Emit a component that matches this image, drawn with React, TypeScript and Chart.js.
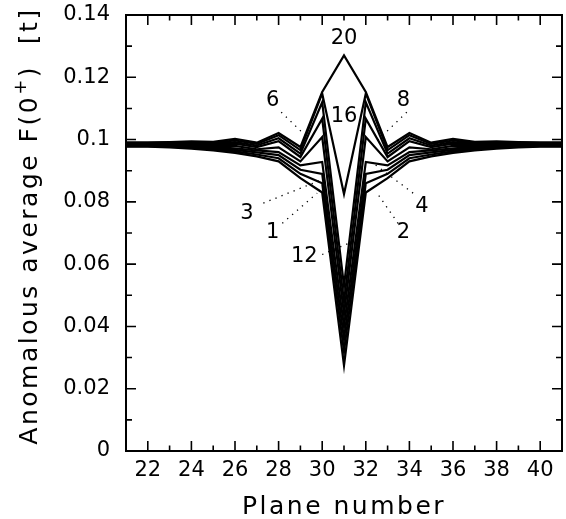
import React, { useEffect, useRef } from "react";
import { Chart, registerables } from "chart.js";

Chart.register(...registerables);

// Plane index along the stack
const planes = [21, 22, 23, 24, 25, 26, 27, 28, 29, 30, 31, 32, 33, 34, 35, 36, 37, 38, 39, 40, 41];

// Anomalous average F(0+) per plane, one array per curve
const curve1 = [0.0977, 0.0977, 0.0975, 0.0971, 0.0965, 0.0957, 0.0946, 0.0930, 0.0876, 0.0830, 0.0275, 0.0830, 0.0876, 0.0930, 0.0946, 0.0957, 0.0965, 0.0971, 0.0975, 0.0977, 0.0977];
const curve2 = [0.0979, 0.0979, 0.0977, 0.0974, 0.0969, 0.0962, 0.0952, 0.0940, 0.0890, 0.0860, 0.0320, 0.0860, 0.0890, 0.0940, 0.0952, 0.0962, 0.0969, 0.0974, 0.0977, 0.0979, 0.0979];
const curve3 = [0.0981, 0.0980, 0.0979, 0.0977, 0.0972, 0.0967, 0.0959, 0.0950, 0.0903, 0.0890, 0.0360, 0.0890, 0.0903, 0.0950, 0.0959, 0.0967, 0.0972, 0.0977, 0.0979, 0.0980, 0.0981];
const curve4 = [0.0982, 0.0982, 0.0981, 0.0980, 0.0976, 0.0972, 0.0965, 0.0960, 0.0917, 0.0928, 0.0400, 0.0928, 0.0917, 0.0960, 0.0965, 0.0972, 0.0976, 0.0980, 0.0981, 0.0982, 0.0982];
const curve6 = [0.0984, 0.0984, 0.0984, 0.0984, 0.0980, 0.0980, 0.0969, 0.0975, 0.0930, 0.1008, 0.0440, 0.1008, 0.0930, 0.0975, 0.0969, 0.0980, 0.0980, 0.0984, 0.0984, 0.0984, 0.0984];
const curve8 = [0.0986, 0.0986, 0.0986, 0.0987, 0.0984, 0.0987, 0.0976, 0.0995, 0.0944, 0.1067, 0.0480, 0.1067, 0.0944, 0.0995, 0.0976, 0.0987, 0.0984, 0.0987, 0.0986, 0.0986, 0.0986];
const curve12 = [0.0987, 0.0987, 0.0988, 0.0989, 0.0987, 0.0992, 0.0981, 0.1004, 0.0955, 0.1120, 0.0530, 0.1120, 0.0955, 0.1004, 0.0981, 0.0992, 0.0987, 0.0989, 0.0988, 0.0987, 0.0987];
const curve16 = [0.0989, 0.0989, 0.0990, 0.0992, 0.0990, 0.0997, 0.0986, 0.1014, 0.0966, 0.1148, 0.0825, 0.1148, 0.0966, 0.1014, 0.0986, 0.0997, 0.0990, 0.0992, 0.0990, 0.0989, 0.0989];
const curve20 = [0.0991, 0.0991, 0.0992, 0.0994, 0.0993, 0.1002, 0.0990, 0.1021, 0.0976, 0.1153, 0.1270, 0.1153, 0.0976, 0.1021, 0.0990, 0.1002, 0.0993, 0.0994, 0.0992, 0.0991, 0.0991];

const curveNames = ["1", "2", "3", "4", "6", "8", "12", "16", "20"];
const curveValues = [curve1, curve2, curve3, curve4, curve6, curve8, curve12, curve16, curve20];

// Curve labels placed in data coordinates
const noteText = ["20", "16", "6", "8", "3", "1", "12", "4", "2"];
const noteX = [31, 31, 27.73, 33.73, 26.55, 27.73, 29.18, 34.57, 33.73];
const noteY = [0.1325, 0.1073, 0.1124, 0.1124, 0.0762, 0.0703, 0.0623, 0.0784, 0.0703];

// Dotted leader lines from each label towards its curve (x0, y0, x1, y1)
const leaderLines = [
  [28.12, 0.1088, 29.45, 0.0998], // 6
  [33.88, 0.1088, 32.55, 0.0998], // 8
  [27.3, 0.0796, 29.91, 0.0869], // 3
  [28.17, 0.0731, 29.77, 0.0828], // 1
  [34.17, 0.0828, 32.34, 0.0924], // 4
  [33.48, 0.0731, 32.52, 0.0828], // 2
  [30.0, 0.0631, 31.19, 0.0666], // 12
];

const xTitle = "Plane number";
const yTitleMain = "Anomalous average F(0";
const yTitleSup = "+";
const yTitleTail = ")  [t]";

const FONT = "'DejaVu Sans', 'Liberation Sans', sans-serif";

const decorPlugin = {
  id: "decor",
  afterDraw(chart: any) {
    const { ctx, chartArea: a, scales } = chart;
    const xs = scales.x;
    const ys = scales.y;
    ctx.save();
    ctx.strokeStyle = "#000";

    // frame
    ctx.lineWidth = 2;
    ctx.strokeRect(a.left, a.top, a.right - a.left, a.bottom - a.top);

    // inward ticks on all four sides
    ctx.lineWidth = 1.6;
    ctx.beginPath();
    xs.ticks.forEach((t: any) => {
      const v = t.value;
      if (v <= xs.min || v >= xs.max) return;
      const px = xs.getPixelForValue(v);
      const len = Math.round(v) % 2 === 0 ? 10 : 5.5;
      ctx.moveTo(px, a.bottom);
      ctx.lineTo(px, a.bottom - len);
      ctx.moveTo(px, a.top);
      ctx.lineTo(px, a.top + len);
    });
    ys.ticks.forEach((t: any) => {
      const v = t.value;
      if (v <= ys.min + 1e-9 || v >= ys.max - 1e-9) return;
      const py = ys.getPixelForValue(v);
      const len = Math.round(v * 100) % 2 === 0 ? 10 : 6;
      ctx.moveTo(a.left, py);
      ctx.lineTo(a.left + len, py);
      ctx.moveTo(a.right, py);
      ctx.lineTo(a.right - len, py);
    });
    ctx.stroke();

    // dotted leaders
    ctx.lineWidth = 1.3;
    ctx.setLineDash([1.3, 5.2]);
    ctx.beginPath();
    leaderLines.forEach(([x0, y0, x1, y1]) => {
      ctx.moveTo(xs.getPixelForValue(x0), ys.getPixelForValue(y0));
      ctx.lineTo(xs.getPixelForValue(x1), ys.getPixelForValue(y1));
    });
    ctx.stroke();
    ctx.setLineDash([]);

    // curve labels
    ctx.fillStyle = "#000";
    ctx.font = `21px ${FONT}`;
    ctx.textAlign = "center";
    ctx.textBaseline = "middle";
    noteText.forEach((s, i) => {
      ctx.fillText(s, xs.getPixelForValue(noteX[i]), ys.getPixelForValue(noteY[i]));
    });

    // axis titles
    (ctx as any).letterSpacing = "2.5px";
    ctx.textBaseline = "alphabetic";
    ctx.textAlign = "center";
    ctx.font = `25px ${FONT}`;
    ctx.fillText(xTitle, (a.left + a.right) / 2, 514);

    ctx.textAlign = "left";
    const big = `25px ${FONT}`;
    const small = `18px ${FONT}`;
    ctx.font = big;
    const w1 = ctx.measureText(yTitleMain).width;
    const w3 = ctx.measureText(yTitleTail).width;
    ctx.font = small;
    const w2 = ctx.measureText(yTitleSup).width;
    const total = w1 + w2 + w3;
    ctx.translate(37, 226);
    ctx.rotate(-Math.PI / 2);
    let x = -total / 2;
    ctx.font = big;
    ctx.fillText(yTitleMain, x, 0);
    x += w1;
    ctx.font = small;
    ctx.fillText(yTitleSup, x, -11);
    x += w2;
    ctx.font = big;
    ctx.fillText(yTitleTail, x, 0);
    ctx.restore();
  },
};

export default function App() {
  const canvasRef = useRef<HTMLCanvasElement | null>(null);

  useEffect(() => {
    const canvas = canvasRef.current;
    if (!canvas) return;
    const chart = new Chart(canvas, {
      type: "line",
      data: {
        labels: planes,
        datasets: curveValues.map((vals, i) => ({
          label: curveNames[i],
          data: planes.map((p, j) => ({ x: p, y: vals[j] })),
          borderColor: "#000",
          backgroundColor: "#000",
          borderWidth: 2.2,
          pointRadius: 0,
          tension: 0,
          fill: false,
          borderJoinStyle: "miter" as const,
        })),
      },
      options: {
        animation: false,
        responsive: false,
        devicePixelRatio: 1,
        layout: { padding: { left: 0, top: 15, right: 4, bottom: 0 } },
        plugins: { legend: { display: false }, tooltip: { enabled: false } },
        scales: {
          x: {
            type: "linear",
            min: 21,
            max: 41,
            grid: { display: false, drawTicks: false },
            border: { display: false },
            ticks: {
              stepSize: 1,
              autoSkip: false,
              maxRotation: 0,
              padding: 7,
              color: "#000",
              font: { family: FONT, size: 21 },
              callback: (v: any) => (Math.round(v) % 2 === 0 ? String(Math.round(v)) : ""),
            },
            afterFit: (s: any) => {
              s.height = 68;
              s.paddingLeft = 0;
              s.paddingRight = 0;
            },
          },
          y: {
            type: "linear",
            min: 0,
            max: 0.14,
            grid: { display: false, drawTicks: false },
            border: { display: false },
            ticks: {
              stepSize: 0.01,
              autoSkip: false,
              padding: 16,
              color: "#000",
              font: { family: FONT, size: 21 },
              callback: (v: any) => {
                const k = Math.round(v * 100);
                return k % 2 === 0 ? String(k / 100) : "";
              },
            },
            afterFit: (s: any) => {
              s.width = 126;
              s.paddingTop = 0;
              s.paddingBottom = 0;
            },
          },
        },
      },
      plugins: [decorPlugin],
    });
    return () => chart.destroy();
  }, []);

  return (
    <div style={{ position: "fixed", left: 0, top: 0, width: 566, height: 519, background: "#fff" }}>
      <canvas ref={canvasRef} width={566} height={519} style={{ display: "block" }} />
    </div>
  );
}
